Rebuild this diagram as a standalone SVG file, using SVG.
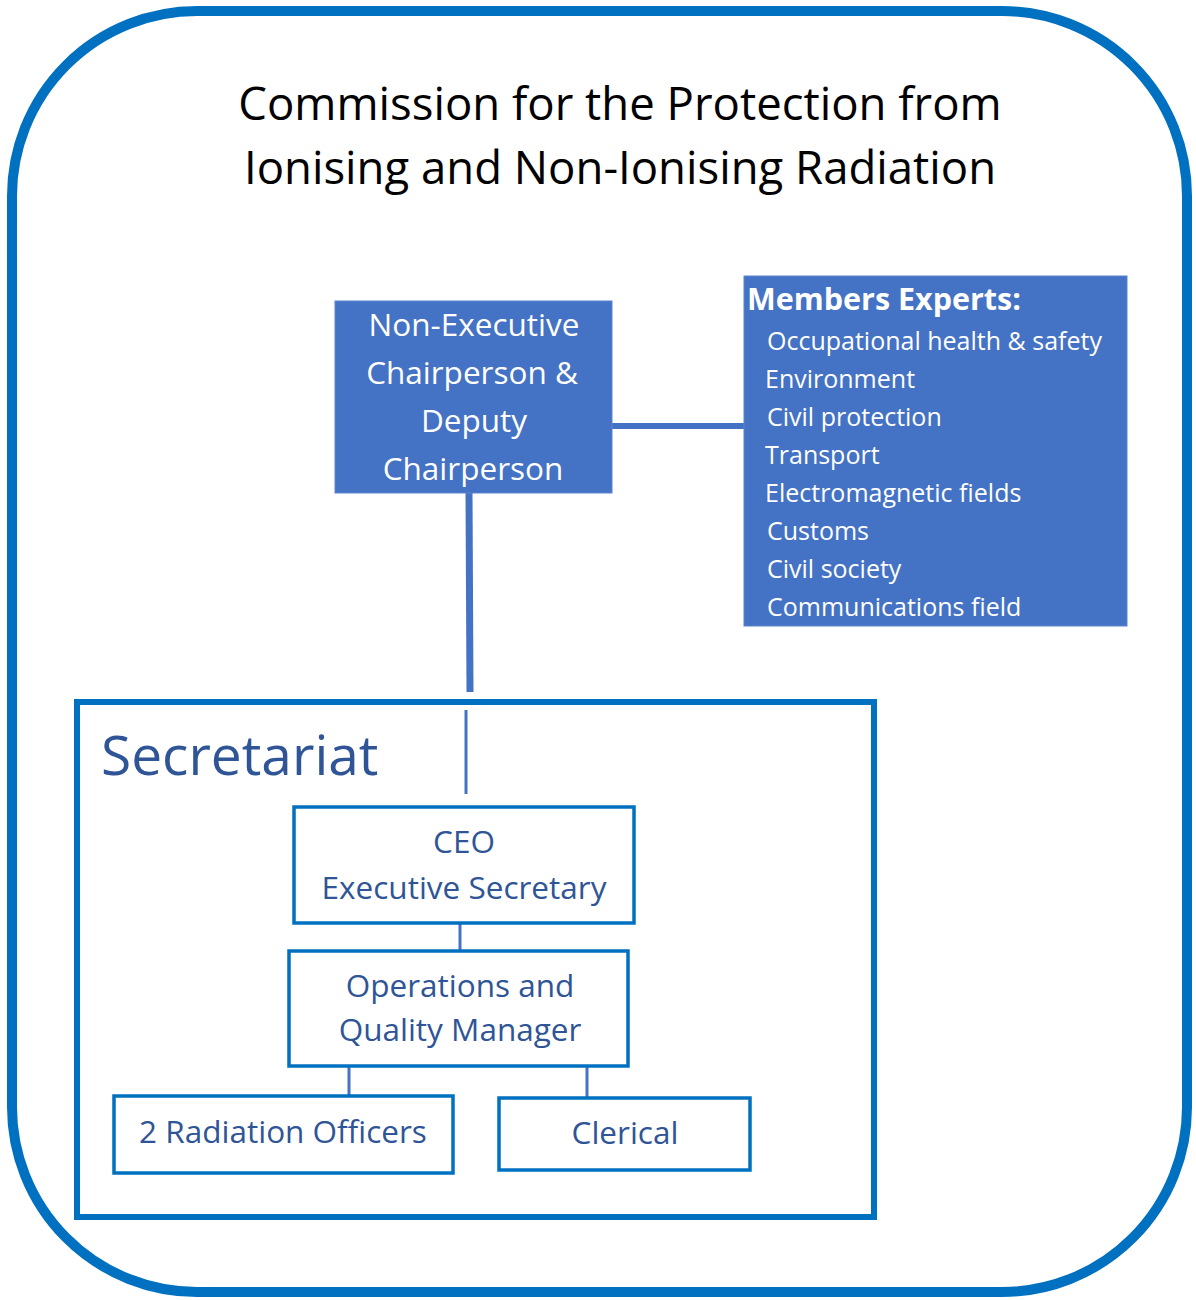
<svg xmlns="http://www.w3.org/2000/svg" width="1196" height="1300" viewBox="0 0 1196 1300">
<style>
text{font-family:"Open Sans","Noto Sans","DejaVu Sans",sans-serif}
.title{font-size:45.5px;fill:#000;text-anchor:middle}
.wh{fill:#fff}
.chair{font-size:31.5px;text-anchor:middle}
.hdr{font-size:30.5px;font-weight:bold}
.item{font-size:25px}
.blue{fill:#2F5597}
.sub{font-size:31.5px;text-anchor:middle}
.box{fill:#fff;stroke:#0070C0;stroke-width:3.5}
.conn{stroke:#4472C4;fill:none}
</style>
<rect id="frame" x="12" y="11" width="1175" height="1281" rx="185" ry="185" fill="#fff" stroke="#0070C0" stroke-width="10"/>
<g id="title">
<text class="title" x="620" y="120">Commission for the Protection from</text>
<text class="title" x="620" y="184">Ionising and Non-Ionising Radiation</text>
</g>
<g id="connectors">
<line class="conn" x1="612" y1="426" x2="744" y2="426" stroke-width="6"/>
<line class="conn" x1="469" y1="493" x2="470" y2="692" stroke-width="7"/>
<line class="conn" x1="466" y1="710" x2="466" y2="794" stroke-width="3"/>
<line class="conn" x1="460" y1="923" x2="460" y2="951" stroke-width="3"/>
<line class="conn" x1="349" y1="1066" x2="349" y2="1096" stroke-width="3"/>
<line class="conn" x1="587" y1="1066" x2="587" y2="1098" stroke-width="3"/>
</g>
<g id="chair">
<rect x="335" y="301" width="277" height="192" fill="#4472C4" stroke="#5B84CC" stroke-width="1"/>
<text class="wh chair" x="474" y="336">Non-Executive</text>
<text class="wh chair" x="472" y="384">Chairperson &amp;</text>
<text class="wh chair" x="474" y="432">Deputy</text>
<text class="wh chair" x="473" y="480">Chairperson</text>
</g>
<g id="members">
<rect x="744" y="276" width="383" height="350" fill="#4472C4" stroke="#5B84CC" stroke-width="1"/>
<text class="wh hdr" x="747" y="310">Members Experts:</text>
<text class="wh item" x="767" y="350">Occupational health &amp; safety</text>
<text class="wh item" x="765" y="388">Environment</text>
<text class="wh item" x="767" y="426">Civil protection</text>
<text class="wh item" x="765" y="464">Transport</text>
<text class="wh item" x="765" y="502">Electromagnetic fields</text>
<text class="wh item" x="767" y="540">Customs</text>
<text class="wh item" x="767" y="578">Civil society</text>
<text class="wh item" x="767" y="616">Communications field</text>
</g>
<g id="secretariat">
<rect x="77" y="702" width="797" height="515" fill="none" stroke="#0070C0" stroke-width="6"/>
<text class="blue" x="101" y="775" font-size="55">Secretariat</text>
</g>
<g id="ceo">
<rect class="box" x="294" y="807" width="340" height="116"/>
<text class="blue sub" x="464" y="853">CEO</text>
<text class="blue sub" x="464" y="899">Executive Secretary</text>
</g>
<g id="ops">
<rect class="box" x="289" y="951" width="339" height="115"/>
<text class="blue sub" x="460" y="997">Operations and</text>
<text class="blue sub" x="460" y="1041">Quality Manager</text>
</g>
<g id="radiation">
<rect class="box" x="114" y="1096" width="339" height="77"/>
<text class="blue sub" x="283" y="1143">2 Radiation Officers</text>
</g>
<g id="clerical">
<rect class="box" x="499" y="1098" width="251" height="72"/>
<text class="blue sub" x="625" y="1144">Clerical</text>
</g>
</svg>
